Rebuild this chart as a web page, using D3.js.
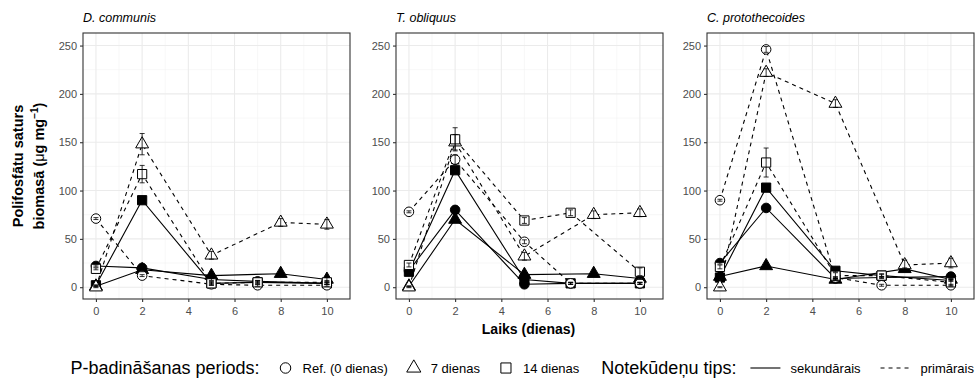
<!DOCTYPE html>
<html>
<head>
<meta charset="utf-8">
<script src="https://cdn.jsdelivr.net/npm/d3@7"></script>
<style>
  body { margin: 0; background: #fff; }
  text { font-family: "Liberation Sans", Arial, sans-serif; }
</style>
</head>
<body>
<svg id="chart" width="975" height="381"></svg>
<script>
// ---------------- DATA ----------------
var species = ["D. communis", "T. obliquus", "C. protothecoides"];
var periods = ["Ref. (0 dienas)", "7 dienas", "14 dienas"];
var waterTypes = ["sekundārais", "primārais"];
var daysRef = [0, 2, 5, 7, 10];
var days7 = [0, 2, 5, 8, 10];
var days14 = [0, 2, 5, 7, 10];
var xTicks = [0, 2, 4, 6, 8, 10];
var yTicks = [0, 50, 100, 150, 200, 250];

// means (ug/mg), rows = Ref, 7 dienas, 14 dienas
var dcSek  = [[22, 20, 8, 6, 4], [1, 18, 12, 14, 8], [2, 90, 4, 5, 4]];
var dcPrim = [[71, 12, 3, 2, 2], [0, 148, 33, 67, 65], [19, 117, 4, 5, 5]];
var toSek  = [[17, 80, 3, 4, 4], [1, 70, 13, 14, 9], [16, 121, 8, 4, 4]];
var toPrim = [[78, 132, 47, 4, 4], [0, 150, 32, 75, 77], [23, 153, 69, 77, 16]];
var cpSek  = [[25, 82, 9, 10, 11], [11, 22, 8, 19, 8], [10, 103, 17, 12, 7]];
var cpPrim = [[90, 246, 10, 2, 2], [0, 222, 190, 23, 25], [21, 129, 12, 12, 5]];

// standard deviations
var dcSekSd  = [[1, 1, 1, 1, 1], [0.5, 2, 1, 1, 2], [0.5, 2, 1, 1, 1]];
var dcPrimSd = [[1, 1, 1, 1, 1], [0.5, 11, 4, 4, 5], [1, 9, 2, 2, 2]];
var toSekSd  = [[1, 2, 1, 1, 1], [0.5, 2, 1, 1, 1], [1, 3, 1, 1, 1]];
var toPrimSd = [[1, 5, 2, 1, 1], [0.5, 8, 4, 4, 4], [2, 12, 3, 3, 4]];
var cpSekSd  = [[1, 2, 1, 1, 1], [1, 1, 1, 1, 1], [1, 2, 1, 1, 1]];
var cpPrimSd = [[1, 3, 1, 1, 1], [0.5, 4, 4, 5, 5], [2, 15, 3, 2, 3]];

// ---------------- LAYOUT ----------------
var svg = d3.select("#chart");
var panelX = [83, 396, 707];
var panelW = 267, panelTop = 33, panelH = 266;

var yScale = d3.scaleLinear().domain([-12.2, 263]).range([panelTop + panelH, panelTop]);

var symbolFor = [d3.symbolCircle, d3.symbolTriangle, d3.symbolSquare];
var symbolSize = [72, 72, 85];
var dayFor = [daysRef, days7, days14];

var allMeans = [[dcSek, dcPrim], [toSek, toPrim], [cpSek, cpPrim]];
var allSds = [[dcSekSd, dcPrimSd], [toSekSd, toPrimSd], [cpSekSd, cpPrimSd]];

for (var p = 0; p < 3; p++) drawPanel(p);

function drawPanel(p) {
    var x0 = panelX[p];
    var xScale = d3.scaleLinear().domain([-0.56, 11.0]).range([x0, x0 + panelW]);
    var g = svg.append("g");

    g.append("rect").attr("x", x0).attr("y", panelTop).attr("width", panelW).attr("height", panelH)
        .attr("fill", "#fff");

    // minor grid
    [1, 3, 5, 7, 9].forEach(function(v) {
        g.append("line").attr("x1", xScale(v)).attr("x2", xScale(v))
            .attr("y1", panelTop).attr("y2", panelTop + panelH)
            .attr("stroke", "#f2f2f2").attr("stroke-width", 0.6);
    });
    [25, 75, 125, 175, 225].forEach(function(v) {
        g.append("line").attr("y1", yScale(v)).attr("y2", yScale(v))
            .attr("x1", x0).attr("x2", x0 + panelW)
            .attr("stroke", "#f2f2f2").attr("stroke-width", 0.6);
    });
    // major grid
    xTicks.forEach(function(v) {
        g.append("line").attr("x1", xScale(v)).attr("x2", xScale(v))
            .attr("y1", panelTop).attr("y2", panelTop + panelH)
            .attr("stroke", "#ebebeb").attr("stroke-width", 1.1);
    });
    yTicks.forEach(function(v) {
        g.append("line").attr("y1", yScale(v)).attr("y2", yScale(v))
            .attr("x1", x0).attr("x2", x0 + panelW)
            .attr("stroke", "#ebebeb").attr("stroke-width", 1.1);
    });

    var line = d3.line().x(function(d) { return xScale(d[0]); }).y(function(d) { return yScale(d[1]); });

    // series: w = 0 sekundarais (solid, filled), 1 primarais (dashed, open)
    var series = [];
    for (var w = 0; w < 2; w++) {
        for (var k = 0; k < 3; k++) {
            var pts = dayFor[k].map(function(day, i) {
                return [day, allMeans[p][w][k][i], allSds[p][w][k][i]];
            });
            series.push({ w: w, k: k, pts: pts });
        }
    }

    series.forEach(function(s) {
        g.append("path").attr("d", line(s.pts)).attr("fill", "none")
            .attr("stroke", "#000").attr("stroke-width", 1.1)
            .attr("stroke-dasharray", s.w === 1 ? "4,4" : null);
    });

    series.forEach(function(s) {
        g.selectAll(null).data(s.pts).enter().append("path")
            .attr("d", d3.symbol().type(symbolFor[s.k]).size(symbolSize[s.k]))
            .attr("transform", function(d) { return "translate(" + xScale(d[0]) + "," + yScale(d[1]) + ")"; })
            .attr("fill", s.w === 0 ? "#000" : "#fff")
            .attr("stroke", "#000").attr("stroke-width", 1);
    });

    // error bars
    series.forEach(function(s) {
        var eb = g.selectAll(null).data(s.pts).enter().append("g");
        eb.append("line")
            .attr("x1", function(d) { return xScale(d[0]); }).attr("x2", function(d) { return xScale(d[0]); })
            .attr("y1", function(d) { return yScale(d[1] - d[2]); })
            .attr("y2", function(d) { return yScale(d[1] + d[2]); })
            .attr("stroke", "#000").attr("stroke-width", 0.8);
        [-1, 1].forEach(function(sg) {
            eb.append("line")
                .attr("x1", function(d) { return xScale(d[0]) - 2.5; })
                .attr("x2", function(d) { return xScale(d[0]) + 2.5; })
                .attr("y1", function(d) { return yScale(d[1] + sg * d[2]); })
                .attr("y2", function(d) { return yScale(d[1] + sg * d[2]); })
                .attr("stroke", "#000").attr("stroke-width", 0.8);
        });
    });

    // border
    g.append("rect").attr("x", x0).attr("y", panelTop).attr("width", panelW).attr("height", panelH)
        .attr("fill", "none").attr("stroke", "#333").attr("stroke-width", 1.1);

    // axes
    var xAxis = g.append("g").attr("transform", "translate(0," + (panelTop + panelH) + ")")
        .call(d3.axisBottom(xScale).tickValues(xTicks).tickSize(3).tickPadding(5));
    var yAxis = g.append("g").attr("transform", "translate(" + x0 + ",0)")
        .call(d3.axisLeft(yScale).tickValues(yTicks).tickSize(3).tickPadding(3));
    [xAxis, yAxis].forEach(function(a) {
        a.select(".domain").remove();
        a.selectAll(".tick line").attr("stroke", "#333").attr("stroke-width", 1.1);
        a.selectAll(".tick text").attr("fill", "#4d4d4d").style("font-size", "11px")
            .style("font-family", "Liberation Sans, Arial, sans-serif");
    });

    // panel title
    g.append("text").attr("x", x0).attr("y", 22).attr("font-style", "italic")
        .style("font-size", "12.5px").text(species[p]);
}

// axis titles
svg.append("text").attr("x", (panelX[0] + panelX[2] + panelW) / 2).attr("y", 334)
    .attr("text-anchor", "middle").attr("font-weight", "bold").style("font-size", "14px")
    .text("Laiks (dienas)");

var yt = svg.append("g").attr("transform", "translate(0," + (panelTop + panelH / 2) + ") rotate(-90)");
yt.append("text").attr("x", 0).attr("y", 23).attr("text-anchor", "middle")
    .attr("font-weight", "bold").style("font-size", "14.5px").text("Polifosfātu saturs");
var yt2 = yt.append("text").attr("x", 0).attr("y", 44).attr("text-anchor", "middle")
    .attr("font-weight", "bold").style("font-size", "14.5px");
yt2.append("tspan").text("biomasā (");
yt2.append("tspan").attr("font-weight", "normal").text("μ");
yt2.append("tspan").text("g mg");
yt2.append("tspan").attr("dy", -6).style("font-size", "10px").text("−1");
yt2.append("tspan").attr("dy", 6).text(")");

// ---------------- LEGEND ----------------
var leg = svg.append("g");
var legY = 368;
var cx = 0;
function legText(str, size) {
    var t = leg.append("text").attr("x", cx).attr("y", legY + size * 0.36)
        .style("font-size", size + "px").text(str);
    cx += t.node().getComputedTextLength();
    return t;
}
legText("P-badināšanas periods:", 18);
cx += 16;
for (var k = 0; k < 3; k++) {
    leg.append("path").attr("d", d3.symbol().type(symbolFor[k]).size(symbolSize[k] * 1.2))
        .attr("transform", "translate(" + (cx + 10) + "," + legY + ")")
        .attr("fill", "#fff").attr("stroke", "#000");
    cx += 20 + 7;
    legText(periods[k], 13);
    cx += 16;
}
cx += 6;
legText("Notekūdeņu tips:", 18);
cx += 14;
for (var w = 0; w < 2; w++) {
    leg.append("line").attr("x1", cx).attr("x2", cx + 30).attr("y1", legY).attr("y2", legY)
        .attr("stroke", "#000").attr("stroke-width", 1.1)
        .attr("stroke-dasharray", w === 1 ? "4,4" : null);
    cx += 30 + 10;
    legText(waterTypes[w], 13);
    cx += 20;
}
var legW = cx - 20;
leg.attr("transform", "translate(" + (975 - legW - 1) + ",0)");
</script>
</body>
</html>
